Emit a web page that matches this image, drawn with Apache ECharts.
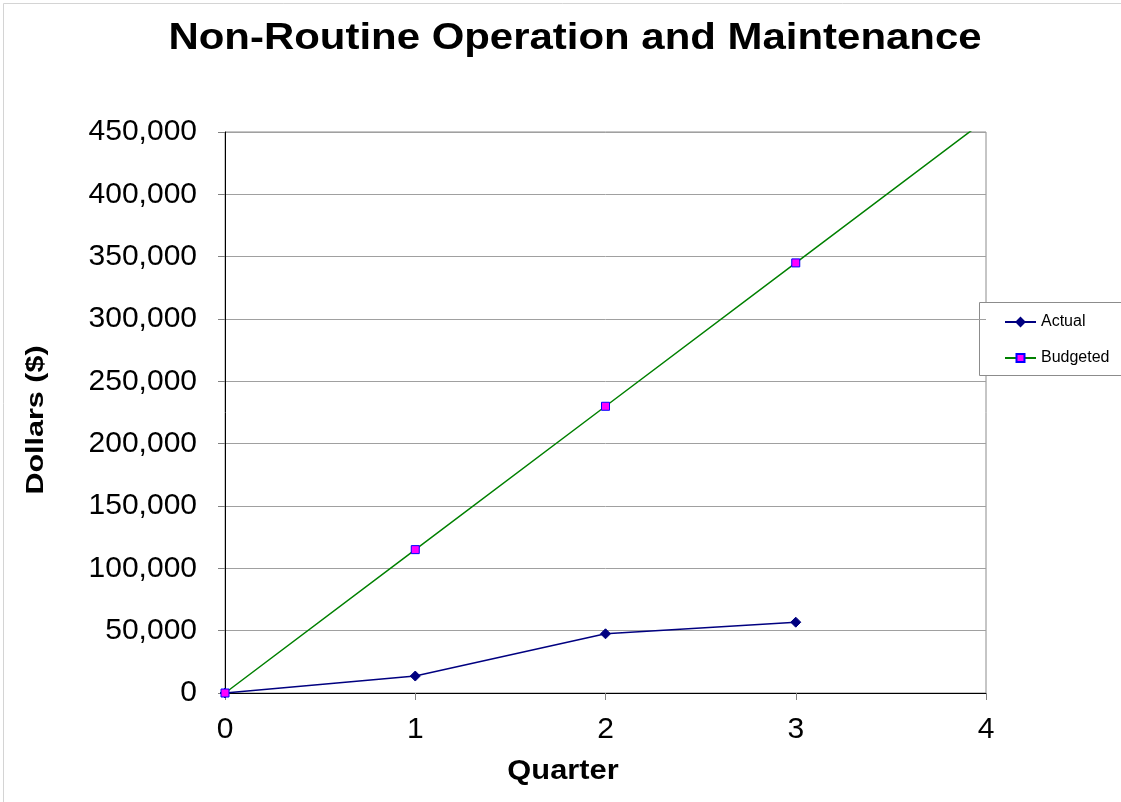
<!DOCTYPE html>
<html>
<head>
<meta charset="utf-8">
<script src="https://cdn.jsdelivr.net/npm/echarts@6/dist/echarts.min.js"></script>
<style>
  html, body { margin: 0; padding: 0; background: #ffffff; }
  #chart { width: 1121px; height: 802px; }
</style>
</head>
<body>
<div id="chart"></div>
<script>
// Quarterly cumulative spending, non-routine O&M
const quarters = [0, 1, 2, 3];
const actualValues = [0, 13600, 47500, 56800];
const budgetedValues = [0, 115000, 230000, 345000];
// Budget trend carried on to quarter 4 (drawn as line only, clipped at axis top)
const budgetedQ4 = [4, 460000];
const yTicksMax = 450000;
const yTickStep = 50000;

const FONT = '"Liberation Sans", Arial, sans-serif';

const chart = echarts.init(document.getElementById('chart'), null, { renderer: 'canvas' });

const actualData = quarters.map((q, i) => [q, actualValues[i]]);
const budgetedData = quarters.map((q, i) => [q, budgetedValues[i]]);
budgetedData.push({ value: budgetedQ4, symbol: 'none' });

// Wide bold headings (stretched horizontally)
function heading(text, x, y, size, sx, rotation) {
  return {
    type: 'text',
    x: x, y: y,
    rotation: rotation || 0,
    scaleX: sx,
    silent: true,
    z: 20,
    style: {
      text: text,
      fontFamily: FONT,
      fontSize: size,
      fontWeight: 'bold',
      fill: '#000000',
      align: 'center',
      verticalAlign: 'middle'
    }
  };
}

chart.setOption({
  animation: false,
  backgroundColor: '#ffffff',
  textStyle: { fontFamily: FONT },
  graphic: [
    {
      type: 'rect',
      shape: { x: 3.5, y: 3.5, width: 1300, height: 1000 },
      style: { fill: 'none', stroke: '#d4d4d4', lineWidth: 1 },
      silent: true, z: -10
    },
    {
      type: 'rect',
      shape: { x: 979.5, y: 302.5, width: 200, height: 73 },
      style: { fill: '#ffffff', stroke: '#8c8c8c', lineWidth: 1 },
      silent: true, z: 0
    },
    heading('Non-Routine Operation and Maintenance', 575, 39, 36, 1.165, 0),
    heading('Dollars ($)', 36, 420, 24, 1.27, Math.PI / 2),
    heading('Quarter', 563, 771, 28, 1.1, 0)
  ],
  legend: {
    orient: 'vertical',
    left: 999,
    top: 309,
    itemGap: 20,
    itemWidth: 31,
    itemHeight: 10,
    z: 10,
    textStyle: { fontFamily: FONT, fontSize: 16, color: '#000000' },
    data: ['Actual', 'Budgeted']
  },
  grid: {
    left: 225, right: 135, top: 132, bottom: 109,
    show: true,
    borderColor: '#8c8c8c',
    borderWidth: 1,
    containLabel: false
  },
  xAxis: {
    type: 'value',
    min: 0, max: 4, interval: 1,
    axisLine: { show: true, onZero: false, lineStyle: { color: '#000000', width: 1 } },
    axisTick: { show: true, length: 7, lineStyle: { color: '#808080' } },
    axisLabel: { fontFamily: FONT, fontSize: 30, color: '#000000', margin: 22 },
    splitLine: { show: false }
  },
  yAxis: {
    type: 'value',
    min: 0, max: yTicksMax, interval: yTickStep,
    axisLine: { show: true, onZero: false, lineStyle: { color: '#000000', width: 1 } },
    axisTick: { show: true, length: 7, lineStyle: { color: '#808080' } },
    axisLabel: {
      fontFamily: FONT, fontSize: 30, color: '#000000', margin: 28,
      formatter: v => v.toLocaleString('en-US')
    },
    splitLine: { show: true, lineStyle: { color: '#a0a0a0', width: 1 } }
  },
  series: [
    {
      name: 'Actual',
      type: 'line',
      data: actualData,
      symbol: 'diamond',
      symbolSize: 10,
      showAllSymbol: true,
      clip: true,
      lineStyle: { color: '#000080', width: 1.5 },
      itemStyle: { color: '#000080', borderColor: '#000080', borderWidth: 1 },
      z: 3
    },
    {
      name: 'Budgeted',
      type: 'line',
      data: budgetedData,
      symbol: 'rect',
      symbolSize: 8,
      showAllSymbol: true,
      clip: true,
      lineStyle: { color: '#008000', width: 1.5 },
      itemStyle: { color: '#ff00ff', borderColor: '#0000ff', borderWidth: 1 },
      z: 4
    }
  ]
});
</script>
</body>
</html>
